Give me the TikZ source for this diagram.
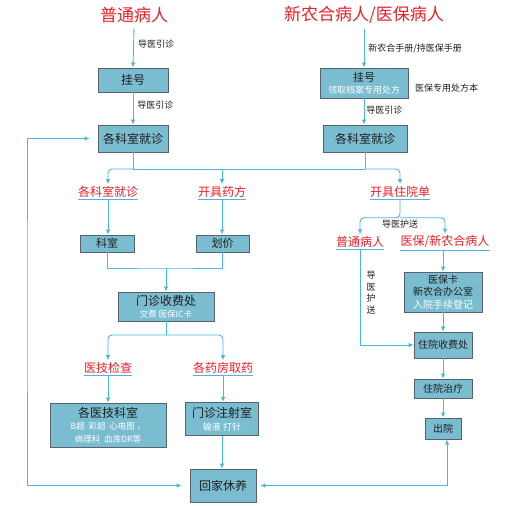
\documentclass[tikz,border=0pt]{standalone}
\usepackage{fontspec}
\setmainfont{Noto Sans CJK SC}
\usepackage{tikz}
\usetikzlibrary{arrows.meta, positioning, calc}
\definecolor{flowBlue}{RGB}{72, 182, 226}
\definecolor{boxFill}{RGB}{122, 189, 208}
\definecolor{boxEdge}{RGB}{88, 98, 108}
\definecolor{alertRed}{RGB}{232, 32, 40}
\definecolor{darkText}{RGB}{30, 30, 30}

\begin{document}
\begin{tikzpicture}[
    x=1pt, y=-1pt,
    box/.style={rectangle, draw=boxEdge, line width=0.9pt, fill=boxFill, align=center, inner sep=1pt, text=darkText, font=\fontsize{12}{14}\selectfont},
    title_lbl/.style={text=alertRed, font=\fontsize{17}{19}\selectfont, inner sep=1pt},
    head_lbl/.style={text=alertRed, font=\fontsize{12}{14}\selectfont, inner xsep=0pt, inner ysep=2pt},
    tag/.style={text=darkText, font=\fontsize{9}{11}\selectfont, inner sep=1pt},
    flow/.style={draw=flowBlue, line width=0.9pt, -{Latex[length=5pt,width=4.5pt]}},
    link/.style={draw=flowBlue, line width=0.9pt},
    uline/.style={draw=flowBlue, line width=1pt}
]
    % canvas
    \fill[white] (0,0) rectangle (510,505);
    \useasboundingbox (0,0) rectangle (510,505);

    % Patient groups (titles)
    \node[title_lbl] (pt1) at (134,15) {普通病人};
    \node[title_lbl] (pt2) at (364,15) {新农合病人/医保病人};

    % Registration and first visit
    \node[box, minimum width=70pt, minimum height=24pt] (gh1) at (133,80) {挂号};
    \node[box, minimum width=88pt, minimum height=30pt, font=\fontsize{11}{13}\selectfont] (gh2) at (364,83) {挂号\\[-1pt]\textcolor{white}{\fontsize{9}{11}\selectfont 领取档案专用处方}};
    \node[tag, anchor=west] (cfb) at (414,88) {医保专用处方本};
    \node[box, minimum width=70pt, minimum height=27pt] (ks1) at (133,138.5) {各科室就诊};
    \node[box, minimum width=84pt, minimum height=27pt] (ks2) at (365,138.5) {各科室就诊};

    \draw[flow] (pt1.south) ++(0,4) -- node[tag, right=3pt, pos=0.4] {导医引诊} (gh1.north);
    \draw[flow] (gh1.south) -- node[tag, right=3pt, pos=0.4] {导医引诊} (gh1.south |- ks1.north);
    \draw[flow] (pt2.south) ++(0,4) -- node[tag, right=3pt, pos=0.5] {新农合手册/持医保手册} (gh2.north);
    \draw[flow] (gh2.south) -- node[tag, right=1pt, pos=0.45] {导医引诊} (gh2.south |- ks2.north);

    % Outcome of the visit
    \coordinate (bus1) at (250,169);
    \node[head_lbl] (lb1) at (108,192) {各科室就诊};
    \node[head_lbl] (lb2) at (222,192) {开具药方};
    \node[head_lbl] (lb3) at (400,192) {开具住院单};
    \foreach \n in {lb1,lb2,lb3} {\draw[uline] (\n.south west) -- (\n.south east);}

    \draw[link] (ks1.south) -- (ks1.south |- bus1);
    \draw[link] (ks2.south) -- (ks2.south |- bus1);
    \draw[link] (ks1.south |- bus1) -- (ks2.south |- bus1);
    \draw[flow, rounded corners=4pt] (ks1.south |- bus1) -| (lb1.north);
    \draw[flow] (ks1.south |- bus1) -| (lb2.north);
    \draw[flow, rounded corners=4pt] (ks2.south |- bus1) -| (lb3.north);

    % Outpatient branch
    \node[box, minimum width=54pt, minimum height=17pt, font=\fontsize{11}{13}\selectfont] (ke) at (107,243.5) {科室};
    \node[box, minimum width=53pt, minimum height=17pt, font=\fontsize{11}{13}\selectfont] (hj) at (222.5,243.5) {划价};
    \draw[flow] (lb1.south) -- (lb1.south |- ke.north);
    \draw[flow] (lb2.south) -- (lb2.south |- hj.north);

    \coordinate (bus2) at (166,268);
    \node[box, minimum width=96pt, minimum height=29pt] (mz) at (166,306.5) {门诊收费处\\[-2pt]\textcolor{white}{\fontsize{8.5}{10}\selectfont 交费 医保IC卡}};
    \draw[link] (ke.south) |- (bus2) -| (hj.south);
    \draw[flow] (bus2) -- (mz.north);

    \coordinate (bus3) at (166,335);
    \node[head_lbl] (lb4) at (108,368) {医技检查};
    \node[head_lbl] (lb5) at (223,368) {各药房取药};
    \foreach \n in {lb4,lb5} {\draw[uline] (\n.south west) -- (\n.south east);}
    \draw[link] (mz.south) -- (bus3);
    \draw[flow, rounded corners=4pt] (bus3) -| (lb4.north);
    \draw[flow, rounded corners=4pt] (bus3) -| (lb5.north);

    \node[box, minimum width=116pt, minimum height=44pt] (yj) at (108,425) {各医技科室\\[-2pt]\textcolor{white}{\fontsize{8.5}{12}\selectfont B超\ \ 彩超\ \ 心电图 ，}\\[-1pt]\textcolor{white}{\fontsize{8.5}{12}\selectfont 病理科\ \ 血库DR等}};
    \node[box, minimum width=73pt, minimum height=33pt] (zs) at (222,419) {门诊注射室\\[-1pt]\textcolor{white}{\fontsize{9}{11}\selectfont 输液 打针}};
    \node[box, minimum width=66pt, minimum height=33pt] (home) at (223,485.5) {回家休养};
    \draw[flow] (lb4.south) -- (lb4.south |- yj.north);
    \draw[flow] (lb5.south) -- (lb5.south |- zs.north);
    \draw[flow] (zs.south) -- (zs.south |- home.north);

    % Loop back on the left
    \coordinate (loopL) at (27,300);
    \draw[link, {Latex[length=5pt,width=4.5pt]}-{Latex[length=5pt,width=4.5pt]}, shorten <=8pt, shorten >=8pt] (ks1.west) -| (loopL) |- (home.west);

    % Inpatient branch
    \node[head_lbl] (lb6) at (360,242) {普通病人};
    \node[head_lbl] (lb7) at (445,242) {医保/新农合病人};
    \foreach \n in {lb6,lb7} {\draw[uline] (\n.south west) -- (\n.south east);}
    \draw[flow, rounded corners=4pt] (lb3.south) -- ++(0,18) node[tag, below=1pt] {导医护送} -| (lb6.north);
    \draw[flow, rounded corners=4pt] (lb3.south) ++(0,18) -| (lb7.north);

    \node[box, minimum width=78pt, minimum height=40pt, font=\fontsize{10}{12.5}\selectfont] (yb) at (443,292) {医保卡\\新农合办公室\\\textcolor{white}{入院手续登记}};
    \node[box, minimum width=58pt, minimum height=26pt, font=\fontsize{10}{12}\selectfont] (zysf) at (443,345) {住院收费处};
    \node[box, minimum width=58pt, minimum height=19pt, font=\fontsize{10}{12}\selectfont] (zyzl) at (443,388.5) {住院治疗};
    \node[box, minimum width=36pt, minimum height=21pt, font=\fontsize{10}{12}\selectfont] (cy) at (443,428.5) {出院};
    \node[tag, align=center, font=\fontsize{9}{11.5}\selectfont] (hs) at (371,293) {导\\医\\护\\送};

    \draw[flow] (lb7.south -| yb.north) -- (yb.north);
    \draw[flow] (lb6.south) |- (zysf.west);
    \draw[flow] (yb.south) -- (zysf.north);
    \draw[flow] (zysf.south) -- (zyzl.north);
    \draw[flow] (zyzl.south) -- (cy.north);
    \draw[link, {Latex[length=5pt,width=4.5pt]}-{Latex[length=5pt,width=4.5pt]}, shorten >=4pt] ([xshift=4pt]cy.south) |- (home.east);
\end{tikzpicture}
\end{document}
